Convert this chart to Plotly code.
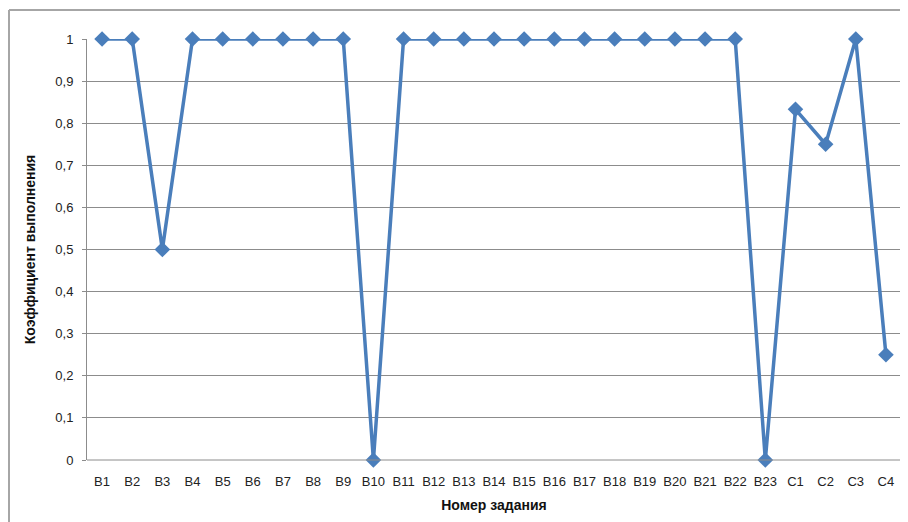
import plotly.graph_objects as go

categories = ["В1", "В2", "В3", "В4", "В5", "В6", "В7", "В8", "В9", "В10", "В11",
              "В12", "В13", "В14", "В15", "В16", "В17", "В18", "В19", "В20", "В21",
              "В22", "В23", "С1", "С2", "С3", "С4"]
values = [1, 1, 0.5, 1, 1, 1, 1, 1, 1, 0, 1,
          1, 1, 1, 1, 1, 1, 1, 1, 1, 1,
          1, 0, 0.833, 0.75, 1, 0.25]
y_ticks = [0, 0.1, 0.2, 0.3, 0.4, 0.5, 0.6, 0.7, 0.8, 0.9, 1]

# page body has an 8px margin; size the figure to fit the window
W, H = 900, 514
L, R, T, B = 79, 7, 31, 62
pw, ph = W - L - R, H - T - B

fig = go.Figure()
fig.add_trace(go.Scatter(
    x=categories, y=values, mode="lines+markers",
    line=dict(color="#4A7EBB", width=3.5),
    marker=dict(symbol="diamond", size=12, color="#4A7EBB"),
    cliponaxis=False,
    showlegend=False,
))

font = "Liberation Sans, Arial, sans-serif"
fig.update_layout(
    width=W, height=H,
    margin=dict(l=L, r=R, t=T, b=B, autoexpand=False),
    paper_bgcolor="white", plot_bgcolor="white",
    separators=", ",
    font=dict(family=font, size=13, color="#222"),
    xaxis=dict(
        type="category", range=[-0.5, len(categories) - 0.5],
        showgrid=False, showline=False, ticks="", zeroline=False,
        automargin=False, ticklabelstandoff=12,
        tickfont=dict(size=13, color="#222"),
        title=dict(text="<b>Номер задания</b>", font=dict(size=14, color="#111"), standoff=12),
    ),
    yaxis=dict(
        range=[0, 1], tickvals=y_ticks,
        showgrid=True, gridcolor="#8c8c8c", gridwidth=1,
        showline=True, linecolor="#8c8c8c", linewidth=1,
        ticks="outside", ticklen=4, tickcolor="#8c8c8c",
        zeroline=False, automargin=False, ticklabelstandoff=6,
        tickfont=dict(size=13, color="#222"),
        title=dict(text="<b>Коэффициент выполнения</b>", font=dict(size=14, color="#111"), standoff=16),
    ),
    shapes=[
        dict(type="line", xref="paper", yref="paper",
             x0=(1 - L) / pw, x1=1 + (R + 5) / pw,
             y0=1 + (T - 2) / ph, y1=1 + (T - 2) / ph,
             line=dict(color="#a6a6a6", width=2)),
        dict(type="line", xref="paper", yref="paper",
             x0=(1 - L) / pw, x1=(1 - L) / pw,
             y0=-(B + 5) / ph, y1=1 + (T - 2) / ph,
             line=dict(color="#a6a6a6", width=2)),
        dict(type="line", xref="paper", yref="paper",
             x0=0, x1=1, y0=0, y1=0,
             line=dict(color="#8c8c8c", width=1)),
    ],
)

fig.write_html("out.html")
